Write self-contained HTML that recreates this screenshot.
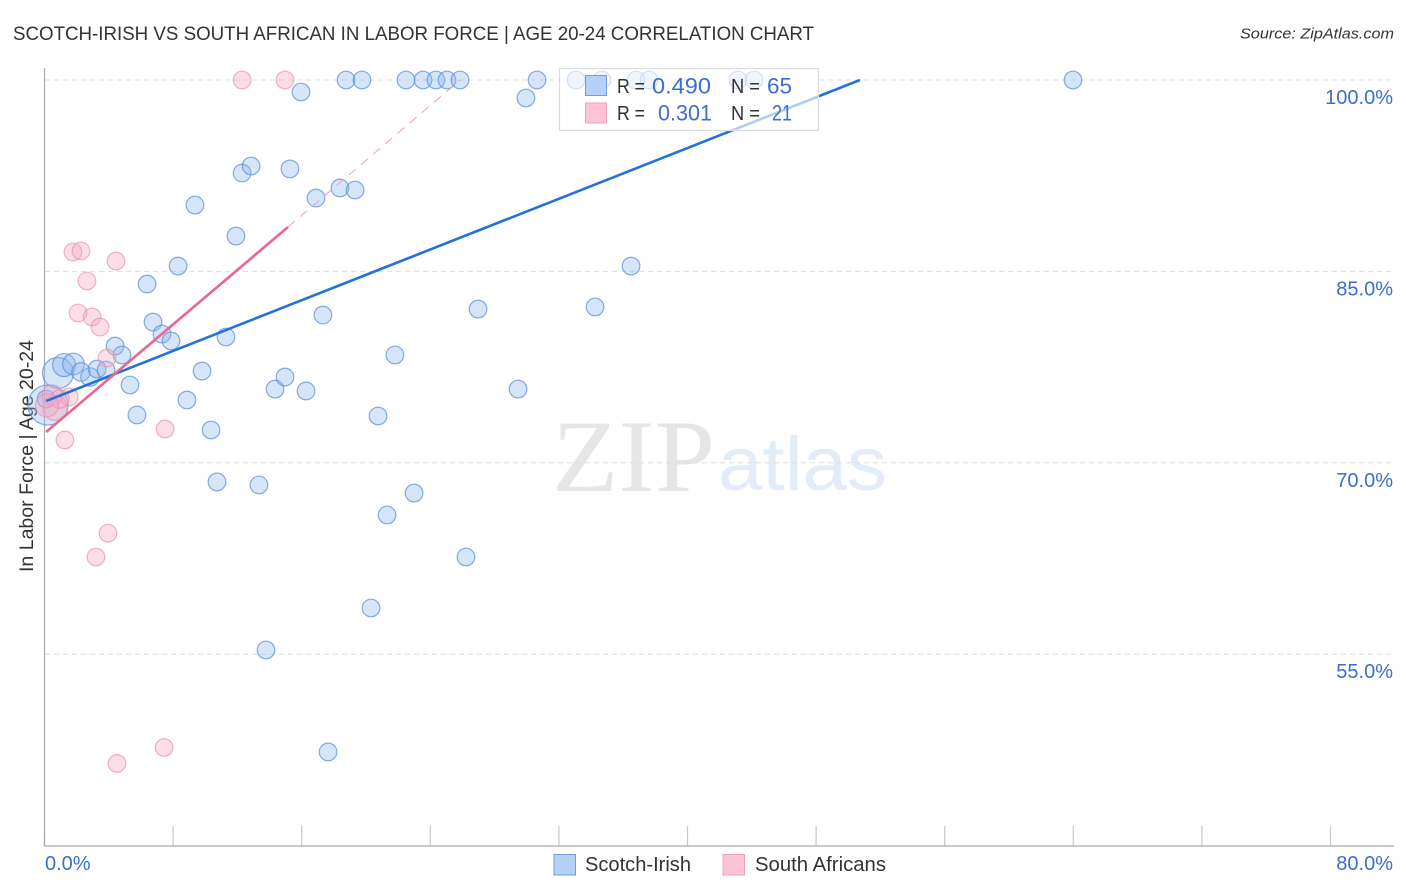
<!DOCTYPE html>
<html lang="en">
<head>
<meta charset="utf-8">
<title>Scotch-Irish vs South African in Labor Force | Age 20-24 Correlation Chart</title>
<style>
html,body{margin:0;padding:0;background:#fff;}
svg{display:block;font-family:"Liberation Sans",sans-serif;}
</style>
</head>
<body>
<svg id="chart" xmlns="http://www.w3.org/2000/svg" width="1406" height="892" viewBox="0 0 1406 892">
  <text x="13" y="40" font-size="19.5" fill="#333" textLength="801" lengthAdjust="spacingAndGlyphs">SCOTCH-IRISH VS SOUTH AFRICAN IN LABOR FORCE | AGE 20-24 CORRELATION CHART</text>
  <text x="1394" y="38.500" font-size="15" font-style="italic" fill="#333" text-anchor="end" textLength="154" lengthAdjust="spacingAndGlyphs">Source: ZipAtlas.com</text>
  <g id="watermark">
    <text x="552" y="491" font-family="'Liberation Serif',serif" font-size="103" fill="#e6e6e6" textLength="163" lengthAdjust="spacingAndGlyphs">ZIP</text>
    <text x="718" y="490" font-size="76" fill="#e3ecf9" textLength="169" lengthAdjust="spacingAndGlyphs">atlas</text>
  </g>
  <g id="grid"></g>
  <g id="axes"></g>
  <text transform="translate(33,456) rotate(-90)" font-size="19" fill="#333" text-anchor="middle" textLength="232" lengthAdjust="spacingAndGlyphs">In Labor Force | Age 20-24</text>
  <g id="blue-points"></g>
  <g id="pink-points"></g>
  <g id="trends"></g>
  <g id="ticklabels"></g>
  <g>
    <rect x="559.500" y="68.500" width="259" height="62" fill="#fff" fill-opacity="0.65" stroke="#dcdcdc" stroke-width="1.200"></rect>
    <rect x="585.500" y="75.500" width="21" height="20" fill="#b5d1f7" stroke="#6f9fdc" stroke-width="1"></rect>
    <rect x="585.500" y="103" width="21" height="20" fill="#fcc5d7" stroke="#eda3bb" stroke-width="1"></rect>
    <text x="617" y="93" font-size="20" fill="#333" textLength="28" lengthAdjust="spacingAndGlyphs">R =</text>
    <text x="711" y="93.500" font-size="22" fill="#3a6fd0" text-anchor="end" textLength="59" lengthAdjust="spacingAndGlyphs">0.490</text>
    <text x="731" y="93" font-size="20" fill="#333" textLength="29" lengthAdjust="spacingAndGlyphs">N =</text>
    <text x="792" y="93.500" font-size="22" fill="#3a6fd0" text-anchor="end" textLength="25" lengthAdjust="spacingAndGlyphs">65</text>
    <text x="617" y="120" font-size="20" fill="#333" textLength="28" lengthAdjust="spacingAndGlyphs">R =</text>
    <text x="712" y="120.500" font-size="22" fill="#3a6fd0" text-anchor="end" textLength="54" lengthAdjust="spacingAndGlyphs">0.301</text>
    <text x="731" y="120" font-size="20" fill="#333" textLength="29" lengthAdjust="spacingAndGlyphs">N =</text>
    <text x="792" y="120.500" font-size="22" fill="#3a6fd0" text-anchor="end" textLength="20" lengthAdjust="spacingAndGlyphs">21</text>
  </g>
  <g>
    <rect x="554" y="854.500" width="21.500" height="20.500" fill="#b5d1f7" stroke="#6f9fdc" stroke-width="1"></rect>
    <text x="585" y="871" font-size="20" fill="#333" textLength="106" lengthAdjust="spacingAndGlyphs">Scotch-Irish</text>
    <rect x="723" y="854.500" width="21.500" height="20.500" fill="#fcc5d7" stroke="#eda3bb" stroke-width="1"></rect>
    <text x="755" y="871" font-size="20" fill="#333" textLength="131" lengthAdjust="spacingAndGlyphs">South Africans</text>
  </g>
</svg>
<script>
var blueX = [0.84,1.22,1.80,0.22,2.27,2.83,3.27,3.83,4.39,4.82,5.32,5.75,6.38,6.75,7.31,7.87,8.31,8.86,9.36,9.80,10.36,10.73,11.29,11.91,12.29,12.85,13.34,13.78,14.34,14.96,15.27,15.96,16.27,16.89,17.32,17.64,18.38,18.76,19.32,19.75,20.31,20.75,21.31,21.80,22.49,22.99,23.55,24.35,25.04,25.85,26.22,26.97,29.46,29.95,30.64,33.07,34.25,34.68,36.49,36.80,37.61,43.14,44.14,63.98,0.10];
var blueY = [77.04,77.66,77.74,74.53,77.12,76.72,77.35,77.27,79.15,78.45,76.10,73.75,84.01,81.03,80.09,79.55,85.42,74.92,90.20,77.19,72.57,68.50,79.86,87.77,92.71,93.26,68.26,55.33,75.78,76.72,93.03,99.06,75.63,90.75,81.58,47.34,91.54,100,91.38,100,58.62,73.67,65.91,78.45,100,67.63,100,100,100,100,62.62,82.05,75.78,98.59,100,100,82.21,100,85.42,100,100,100,100,100,75.00];
var blueWeight = [3.1,1.7,1.5,5.2,1.1,1.1,1,1,1,1,1,1,1,1,1,1,1,1,1,1,1,1,1,1,1,1,1,1,1,1,1,1,1,1,1,1,1,1,1,1,1,1,1,1,1,1,1,1,1,1,1,1,1,1,1,1,1,1,1,1,1,1,1,1,1];
var pinkX = [12.29,14.96,1.77,2.27,4.45,2.64,2.09,2.96,3.45,3.89,7.50,1.27,1.53,0.47,0.65,0.96,0.15,3.95,3.20,7.44,4.51];
var pinkY = [100,100,86.52,86.60,85.81,84.25,81.74,81.43,80.64,78.21,72.65,71.79,75.16,75.31,74.30,75.00,74.50,64.48,62.62,47.69,46.44];
var pinkWeight = [1,1,1,1,1,1,1,1,1,1,1,1,1,1.3,2.0,1.1,1.7,1,1,1,1];
var blueTrendX = [0.1,50.73];
var blueTrendY = [74.84,100];
var pinkTrendX = [0.1,15.15];
var pinkTrendY = [72.41,88.48];
var pinkDashX = [15.15,25.85];
var pinkDashY = [88.48,100];
var yTicks = [100,85,70,55];
var yTickLabels = ["100.0%","85.0%","70.0%","55.0%"];
var xTicks = [0,8,16,24,32,40,48,56,64,72,80];
var xEndLabels = ["0.0%","80.0%"];

var SVGNS = "http://www.w3.org/2000/svg";
function xScale(v){ return 44.5 + v * 16.075; }
function yScale(v){ return 80 + (100 - v) * 12.76; }
function make(tag, parentId, attrs){
  var el = document.createElementNS(SVGNS, tag);
  for (var k in attrs) { el.setAttribute(k, attrs[k]); }
  document.getElementById(parentId).appendChild(el);
  return el;
}

yTicks.forEach(function(t, i){
  var g = make("line", "grid", {x1:45, x2:1394, y1:yScale(t), y2:yScale(t), stroke:"#dedede", "stroke-width":1, "stroke-dasharray":"5 4"});
  
  
  var lb = make("text", "ticklabels", {x:1393, y:yScale(t) + 24, "font-size":20, fill:"#3a6fd0", "text-anchor":"end"});
  lb.textContent = yTickLabels[i];
  
  
});

xTicks.forEach(function(t){
  var k = make("line", "axes", {x1:xScale(t), x2:xScale(t), y1:826, y2:846, stroke:"#c8c8c8", "stroke-width":1.2});
  
  
});

var yAxis = make("line", "axes", {x1:44.5, x2:44.5, y1:68, y2:846, stroke:"#aaaaaa", "stroke-width":1.2});


var xAxis = make("line", "axes", {x1:44, x2:1394, y1:846, y2:846, stroke:"#aaaaaa", "stroke-width":1.2});



var xl0 = make("text", "ticklabels", {x:45, y:870, "font-size":20, fill:"#3a6fd0"});
xl0.textContent = xEndLabels[0];


var xl1 = make("text", "ticklabels", {x:1393, y:870, "font-size":20, fill:"#3a6fd0", "text-anchor":"end"});
xl1.textContent = xEndLabels[1];



blueX.forEach(function(v, i){
  var c = make("circle", "blue-points", {cx:xScale(v), cy:yScale(blueY[i]), r:8.8 * Math.sqrt(blueWeight[i]), fill:"#8db6ec", "fill-opacity":0.36, stroke:"#5a92dc", "stroke-opacity":0.75, "stroke-width":1.2});
  
  
});
pinkX.forEach(function(v, i){
  var c = make("circle", "pink-points", {cx:xScale(v), cy:yScale(pinkY[i]), r:8.8 * Math.sqrt(pinkWeight[i]), fill:"#f8a9c3", "fill-opacity":0.38, stroke:"#ec8fae", "stroke-opacity":0.7, "stroke-width":1.2});
  
  
});

var bt = make("line", "trends", {x1:xScale(blueTrendX[0]), y1:yScale(blueTrendY[0]), x2:xScale(blueTrendX[1]), y2:yScale(blueTrendY[1]), stroke:"#2272d8", "stroke-width":2.6});


var pt = make("line", "trends", {x1:xScale(pinkTrendX[0]), y1:yScale(pinkTrendY[0]), x2:xScale(pinkTrendX[1]), y2:yScale(pinkTrendY[1]), stroke:"#e8688f", "stroke-width":2.6});


var pd = make("line", "trends", {x1:xScale(pinkDashX[0]), y1:yScale(pinkDashY[0]), x2:xScale(pinkDashX[1]), y2:yScale(pinkDashY[1]), stroke:"#eda0b8", "stroke-width":1, "stroke-dasharray":"9 7"});


</script>
</body>
</html>
